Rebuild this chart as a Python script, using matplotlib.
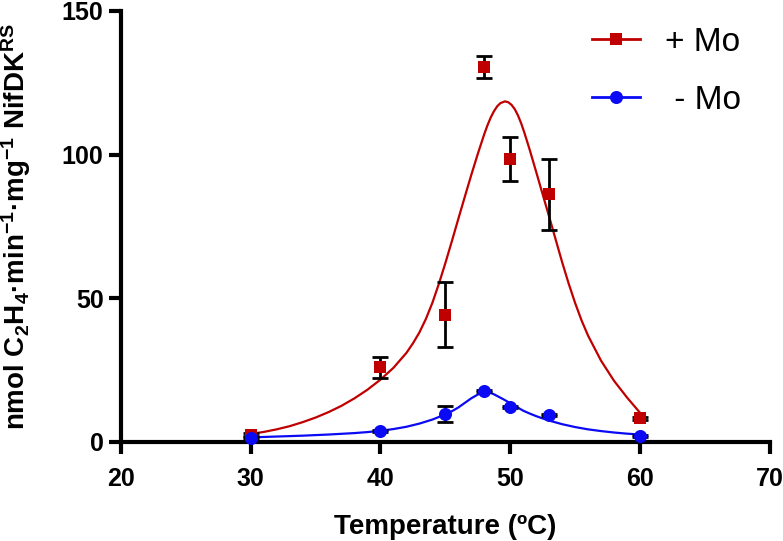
import numpy as np
import matplotlib
matplotlib.use('Agg')
import matplotlib.pyplot as plt
from matplotlib.lines import Line2D

# measured points
temps = [30, 40, 45, 48, 50, 53, 60]
plus_mo = [2.6, 26.0, 44.3, 130.5, 98.5, 86.2, 8.3]
plus_err = [0.5, 3.7, 11.3, 3.8, 7.7, 12.3, 0.5]
minus_mo = [1.5, 3.8, 9.8, 17.7, 12.1, 9.5, 2.1]
minus_err = [0.3, 0.3, 2.75, 0.4, 0.4, 0.4, 0.3]

# fitted curves
fit_x_plus = [30, 31, 32, 33, 34, 35, 36, 37, 38, 39, 40, 41, 42, 42.5, 43, 43.5,
              44, 44.5, 45, 45.5, 46, 46.5, 47, 47.5, 48, 48.25, 48.5, 48.75, 49,
              49.25, 49.6, 49.85, 50.1, 50.35, 50.6, 50.85, 51.1, 51.5, 52,
              52.5, 53, 53.5, 54, 54.5, 55, 55.5, 56, 57, 58, 59, 60]
fit_y_plus = [2.8, 3.5, 4.4, 5.5, 6.9, 8.5, 10.4, 12.6, 15.2, 18.2, 21.7, 25.8,
              31.0, 34.3, 38.1, 42.8, 48.4, 55.0, 62.2, 69.8, 77.6, 85.3, 92.9,
              100.2, 107.1, 110.2, 112.9, 115.1, 116.8, 117.9, 118.5, 118.2,
              117.3, 115.8, 113.6, 110.8, 107.5, 101.7, 94.0, 86.2, 78.4, 70.5,
              62.6, 55.2, 48.4, 42.3, 37.0, 28.3, 21.3, 15.5, 10.2]
fit_x_minus = [30, 32, 34, 36, 38, 39, 40, 41, 42, 43, 44, 45, 45.5, 46, 46.5,
               47, 47.5, 47.8, 48.1, 48.4, 48.7, 49, 49.5, 50, 50.5, 51, 51.5,
               52, 52.5, 53, 54, 55, 56, 57, 58, 59, 60]
fit_y_minus = [1.6, 1.9, 2.2, 2.6, 3.1, 3.45, 3.9, 4.5, 5.3, 6.4, 7.8, 9.6, 10.7,
               12.0, 13.6, 15.2, 16.5, 17.1, 17.35, 17.2, 16.7, 16.0, 14.8, 13.5,
               12.2, 10.9, 9.9, 9.0, 8.2, 7.45, 6.2, 5.2, 4.4, 3.8, 3.3, 2.9, 2.6]

RED = '#C00000'
BLUE = '#0A0AF5'

plt.rcParams['font.family'] = ['Liberation Sans', 'DejaVu Sans']
plt.rcParams['mathtext.default'] = 'regular'

fig = plt.figure(figsize=(7.83, 5.41), dpi=100)
ax = fig.add_axes([0.1545, 0.183, 0.8285, 0.797])

ax.plot(fit_x_plus, fit_y_plus, color=RED, lw=1.6, zorder=2)
ax.plot(fit_x_minus, fit_y_minus, color=BLUE, lw=1.6, zorder=2)

ax.errorbar(temps, plus_mo, yerr=plus_err, fmt='none', ecolor='black',
            elinewidth=2, capsize=5.5, capthick=2, zorder=2.2)
ax.errorbar(temps, minus_mo, yerr=minus_err, fmt='none', ecolor='black',
            elinewidth=2, capsize=5.5, capthick=2, zorder=2.2)

ax.plot(temps, plus_mo, 's', color=RED, ms=9.2, mew=0, zorder=3, clip_on=False)
ax.plot(temps, minus_mo, 'o', color=BLUE, ms=9.4, mew=0, zorder=3, clip_on=False)

ax.set_xlim(20, 70)
ax.set_ylim(0, 150)
ax.set_xticks(np.arange(20, 71, 10))
ax.set_yticks([0, 50, 100, 150])

for side in ['top', 'right']:
    ax.spines[side].set_visible(False)
for side in ['left', 'bottom']:
    ax.spines[side].set_linewidth(3)
ax.tick_params(width=3, length=8.5, labelsize=18)
ax.tick_params(axis='x', pad=9.5)
ax.tick_params(axis='y', pad=4)
for lbl in ax.get_xticklabels() + ax.get_yticklabels():
    lbl.set_fontweight('bold')

ax.set_xlabel('Temperature (ºC)', fontsize=20, fontweight='bold')
ax.set_ylabel('nmol C$_2$H$_4$·min$^{-1}$·mg$^{-1}$ NifDK$^{RS}$',
              fontsize=20, fontweight='bold')
ax.xaxis.set_label_coords(0.5, -0.168)
ax.yaxis.set_label_coords(-0.136, 0.5)

handles = [Line2D([], [], color=RED, lw=2, marker='s', ms=9.2, mew=0),
           Line2D([], [], color=BLUE, lw=2, marker='o', ms=9.4, mew=0)]
ax.legend(handles, ['+ Mo', ' - Mo'], loc='upper left',
          bbox_to_anchor=(592 / 783, 1 - 27 / 541), bbox_transform=fig.transFigure,
          frameon=False, fontsize=24, handlelength=1.45, handletextpad=0.75,
          labelspacing=0.8, borderpad=0, borderaxespad=0)

fig.savefig('out.png', dpi=100)
